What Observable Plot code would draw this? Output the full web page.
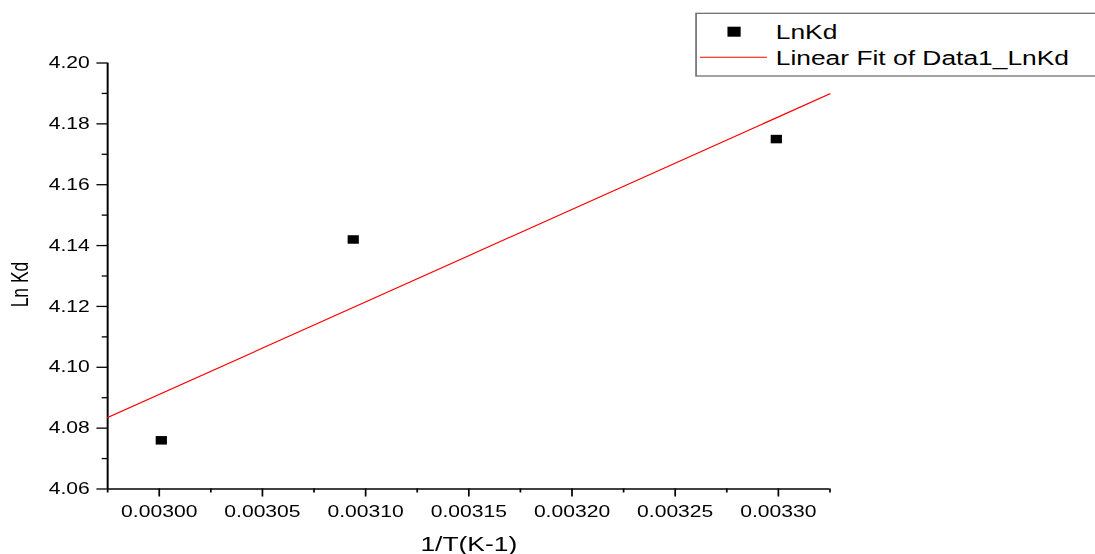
<!DOCTYPE html>
<html>
<head>
<meta charset="utf-8">
<script src="https://cdn.jsdelivr.net/npm/d3@7"></script>
<script src="https://cdn.jsdelivr.net/npm/@observablehq/plot@0.6"></script>
<style>
  html, body { margin: 0; padding: 0; background: #fff; overflow: hidden; }
  /* the chart is laid out at 830px and widened to the full 1095px page */
  #chart { position: relative; width: 830px; height: 554px; transform: scaleX(1.3193); transform-origin: 0 0; }
  #chart > svg { display: block; }
  #legend { position: absolute; left: 0; top: 0; overflow: visible; pointer-events: none; }
</style>
</head>
<body>
<div id="chart"></div>
<script>
// Measured points: inverse temperature vs. ln Kd
const invTemperature = [0.003001, 0.003094, 0.003299];
const lnKd = [4.076, 4.142, 4.175];

// Axis ticks
const xTicks = [0.00300, 0.00305, 0.00310, 0.00315, 0.00320, 0.00325, 0.00330];
const xMinorTicks = [0.002975, 0.003025, 0.003075, 0.003125, 0.003175, 0.003225, 0.003275, 0.003325];
const yTicks = [4.06, 4.08, 4.10, 4.12, 4.14, 4.16, 4.18, 4.20];
const yMinorTicks = [4.07, 4.09, 4.11, 4.13, 4.15, 4.17, 4.19];
const xDomain = [0.002975, 0.003325];
const yDomain = [4.06, 4.20];

// Labels
const seriesName = "LnKd";
const fitName = "Linear Fit of Data1_LnKd";
const xLabel = "1/T(K-1)";
const yLabel = "Ln Kd";

const points = invTemperature.map((x, i) => ({x, y: lnKd[i]}));

// Least-squares straight line, drawn across the whole x range
const mx = d3.mean(invTemperature), my = d3.mean(lnKd);
const slope = d3.sum(points, p => (p.x - mx) * (p.y - my)) / d3.sum(points, p => (p.x - mx) ** 2);
const intercept = my - slope * mx;
const fitLine = xDomain.map(x => ({x, y: intercept + slope * x}));

const font = "'Liberation Sans', Arial, Helvetica, sans-serif";

const chart = Plot.plot({
  width: 830,
  height: 554,
  marginLeft: 81.1,
  marginRight: 201.4,
  marginTop: 62.5,
  marginBottom: 65.5,
  style: {fontFamily: font, fontSize: "16px", color: "#000", background: "transparent"},
  x: {domain: xDomain},
  y: {domain: yDomain},
  marks: [
    Plot.axisX({ticks: xMinorTicks, tickSize: 4, tickFormat: () => "", label: null, strokeWidth: 1.3}),
    Plot.axisX({ticks: xTicks, tickSize: 8, tickPadding: 8.5, tickFormat: d3.format(".5f"), label: null, strokeWidth: 1.3, fontSize: 16}),
    Plot.axisY({ticks: yMinorTicks, tickSize: 4, tickFormat: () => "", label: null, strokeWidth: 1.3}),
    Plot.axisY({ticks: yTicks, tickSize: 8, tickPadding: 5.6, tickFormat: d3.format(".2f"), label: null, strokeWidth: 1.3, fontSize: 16}),
    Plot.ruleX([xDomain[0]], {strokeWidth: 1.5, stroke: "#000"}),
    Plot.ruleY([yDomain[0]], {strokeWidth: 1.5, stroke: "#000"}),
    Plot.line(fitLine, {x: "x", y: "y", stroke: "#ff0000", strokeWidth: 1.1}),
    Plot.dot(points, {x: "x", y: "y", symbol: "square", r: 4.8, fill: "#000", stroke: "none"}),
    Plot.text([xLabel], {text: d => d, frameAnchor: "bottom", textAnchor: "middle", lineAnchor: "bottom", dy: 61.5, fontSize: 20, fill: "#000"}),
    Plot.text([yLabel], {text: d => d, frameAnchor: "left", textAnchor: "middle", lineAnchor: "bottom", rotate: -90, dx: -60, dy: 8.5, fontSize: 17.5, fill: "#000"})
  ]
});

const container = document.getElementById("chart");
container.appendChild(chart);

// Legend box in the top-right corner
const legend = d3.create("svg")
  .attr("id", "legend")
  .attr("width", 900)
  .attr("height", 90)
  .style("font-family", font);

legend.append("rect")
  .attr("x", 527.6).attr("y", 13.3)
  .attr("width", 340).attr("height", 62.7)
  .attr("fill", "#fff").attr("stroke", "#666").attr("stroke-width", 1.2);

legend.append("rect")
  .attr("x", 551.4).attr("y", 26.7)
  .attr("width", 10).attr("height", 10)
  .attr("fill", "#000");

legend.append("text")
  .attr("x", 588).attr("y", 39.3)
  .attr("font-size", 20).attr("fill", "#000")
  .text(seriesName);

legend.append("line")
  .attr("x1", 530.6).attr("x2", 581.3)
  .attr("y1", 57.3).attr("y2", 57.3)
  .attr("stroke", "#ff0000").attr("stroke-width", 1);

legend.append("text")
  .attr("x", 588).attr("y", 65)
  .attr("font-size", 20).attr("fill", "#000")
  .text(fitName);

container.appendChild(legend.node());
</script>
</body>
</html>
